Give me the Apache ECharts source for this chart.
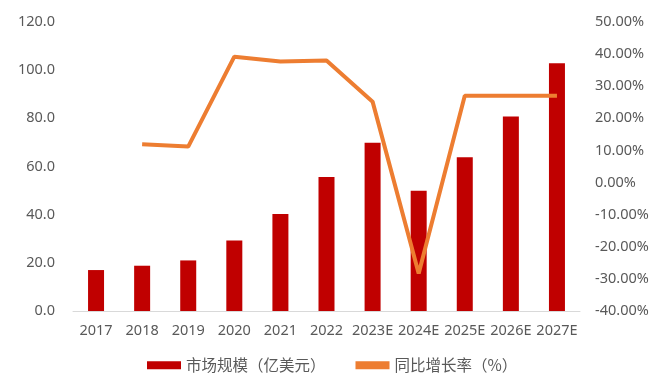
<!DOCTYPE html>
<html><head><meta charset="utf-8">
<script src="https://cdn.jsdelivr.net/npm/echarts@6/dist/echarts.min.js"></script>
<style>html,body{margin:0;padding:0;background:#fff}#c{width:659px;height:385px}</style>
</head><body><div id="c"></div>
<script>
var categories = ['2017','2018','2019','2020','2021','2022','2023E','2024E','2025E','2026E','2027E'];
var marketSize = [17.0, 18.8, 21.0, 29.3, 40.3, 55.6, 69.9, 49.9, 63.8, 80.8, 102.9];
var growthRate = [null, 11.9, 11.2, 39.2, 37.7, 38.0, 25.2, -28.3, 27.0, 27.0, 27.0];
var seriesNames = ['市场规模（亿美元）', '同比增长率（%）'];

var font = '"Noto Sans", "Noto Sans CJK SC", sans-serif';
var chart = echarts.init(document.getElementById('c'));
chart.setOption({
  animation: false,
  textStyle: {fontFamily: font},
  grid: {left: 73, right: 79, top: 22, bottom: 74},
  legend: {
    bottom: 7, left: 142, itemWidth: 34, itemHeight: 8, itemGap: 30,
    textStyle: {color: '#595959', fontSize: 15.5, fontFamily: '"Noto Sans CJK SC", sans-serif'},
    data: [{name: seriesNames[0], icon: 'rect'}, {name: seriesNames[1], icon: 'rect', itemStyle: {color: '#ED7D31'}}]
  },
  xAxis: {
    type: 'category', data: categories,
    axisLine: {lineStyle: {color: '#D9D9D9', width: 1}},
    axisTick: {show: false},
    axisLabel: {color: '#595959', fontSize: 14.5, margin: 13, interval: 0}
  },
  yAxis: [{
    type: 'value', min: 0, max: 120, interval: 20,
    splitLine: {show: false}, axisLine: {show: false}, axisTick: {show: false},
    axisLabel: {color: '#595959', fontSize: 14.5, margin: 18, formatter: function(v){return v.toFixed(1);}}
  }, {
    type: 'value', min: -40, max: 50, interval: 10,
    splitLine: {show: false}, axisLine: {show: false}, axisTick: {show: false},
    axisLabel: {color: '#595959', fontSize: 14.5, margin: 15, formatter: function(v){return v.toFixed(2) + '%';}}
  }],
  series: [{
    name: seriesNames[0], type: 'bar', data: marketSize, barWidth: 16,
    itemStyle: {color: '#C00000'}
  }, {
    name: seriesNames[1], type: 'line', yAxisIndex: 1, data: growthRate,
    symbol: 'none', lineStyle: {color: '#ED7D31', width: 4}, itemStyle: {color: '#ED7D31'}
  }]
});
</script></body></html>
